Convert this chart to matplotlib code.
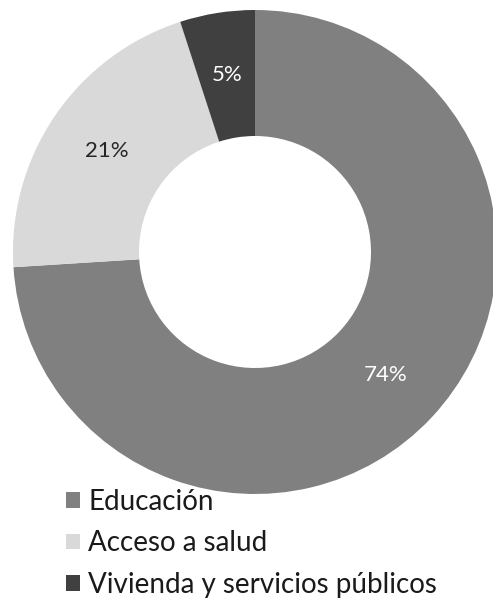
import matplotlib.pyplot as plt

categories = ["Educación", "Acceso a salud", "Vivienda y servicios públicos"]
values = [74, 21, 5]
colors = ["#808080", "#d9d9d9", "#404040"]
label_colors = ["white", "#262626", "white"]

plt.rcParams["font.family"] = ["Lato", "DejaVu Sans"]

fig = plt.figure(figsize=(4.93, 6.0), dpi=100)
ax = fig.add_axes([0, 0, 1, 1])

wedges, texts, autotexts = ax.pie(
    values,
    colors=colors,
    startangle=90,
    counterclock=False,
    center=(255, 348),
    radius=242,
    wedgeprops=dict(width=126, edgecolor="none"),
    autopct="%d%%",
    pctdistance=0.74,
    frame=True,
)
ax.set_xlim(0, 493)
ax.set_ylim(0, 600)
ax.set_aspect("equal")
ax.axis("off")

for t, c in zip(autotexts, label_colors):
    t.set_color(c)
    t.set_fontsize(16)

leg = ax.legend(
    wedges, categories,
    loc="upper left",
    bbox_to_anchor=(55 / 493, 1 - 478 / 600),
    frameon=False,
    fontsize=20,
    handlelength=0.5,
    handleheight=0.5,
    handletextpad=0.3,
    labelspacing=0.55,
    borderaxespad=0,
)
for txt in leg.get_texts():
    txt.set_color("#1a1a1a")

fig.savefig("out.png", dpi=100)
